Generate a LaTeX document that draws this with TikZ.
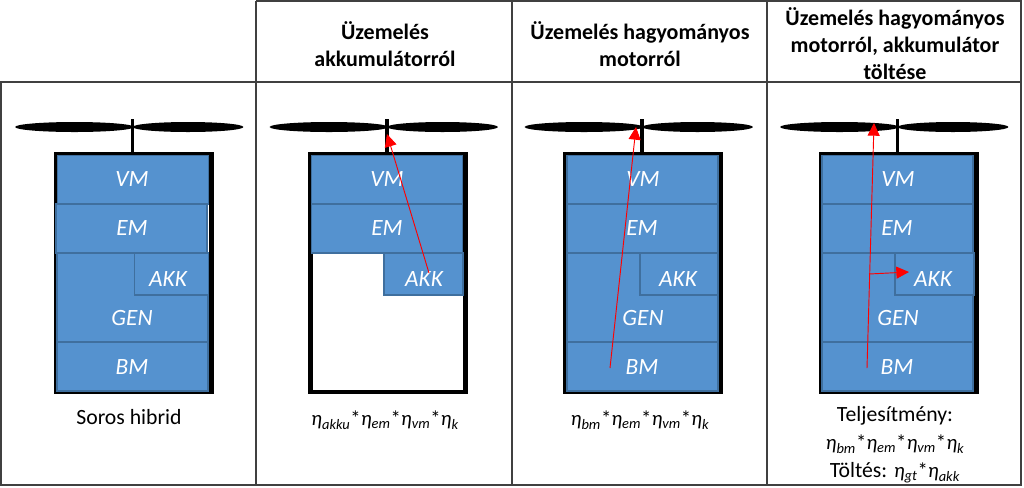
\documentclass[tikz,border=0pt]{standalone}
\usepackage{xcolor}
\usepackage{fontspec}
\setmainfont{Carlito}
\usetikzlibrary{shapes.geometric,arrows.meta}
\definecolor{blockblue}{HTML}{5592CF}
\definecolor{blockedge}{HTML}{3F6F9E}
\newcommand{\etasub}[1]{\textit{η\textsubscript{#1}}}
\tikzset{
    HD/.style ={align=center,font=\fontsize{16.5}{20.25}\selectfont\bfseries},
    TX/.style ={align=center,font=\fontsize{16.3}{21}\selectfont},
    EQ/.style ={align=center,font=\fontsize{15.5}{21}\selectfont},
    LB/.style ={text=white,font=\fontsize{17.5}{18}\selectfont\itshape},
    FR/.style ={rectangle,minimum width = 116.5pt, minimum height = 178.5pt, inner sep=0pt, draw, line width=3.5pt, fill=white},
    BK/.style ={rectangle,minimum width = 113.25pt, minimum height = 36.75pt, inner sep=0pt, draw=blockedge, line width=0.8pt, fill=blockblue},
    BG/.style ={rectangle,minimum width = 113.25pt, minimum height = 66.75pt, inner sep=0pt, draw=blockedge, line width=0.8pt, fill=blockblue},
    AK/.style ={rectangle,minimum width = 59.25pt, minimum height = 31.5pt, inner sep=0pt, draw=blockedge, line width=0.8pt, fill=blockblue},
    BL/.style ={ellipse,minimum height = 7.5pt, inner sep=0pt, fill=black},
    SH/.style ={line width=2.6pt},
    GR/.style ={draw=black!75,line width=0.8pt},
    FL/.style ={-{Triangle[length=9.5pt,width=9pt]},red,line width=0.7pt}
}
\begin{document}
\begin{tikzpicture}[x=0.75pt,y=-0.75pt]
    \useasboundingbox (0,0) rectangle (1024,487);
    % table
    \coordinate (t1) at (256,1);
    \coordinate (t2) at (512,1);
    \coordinate (t3) at (767,1);
    \coordinate (t4) at (1021,1);
    \coordinate (m0) at (1,82);
    \coordinate (m4) at (1021,82);
    \coordinate (b0) at (1,485);
    \coordinate (b1) at (256,485);
    \coordinate (b2) at (512,485);
    \coordinate (b3) at (767,485);
    \coordinate (b4) at (1021,485);
    \draw[GR] (t1) -- (t4) -- (b4) -- (b0) -- (m0) -- (m4);
    \draw[GR] (t1) -- (b1);
    \draw[GR] (t2) -- (b2);
    \draw[GR] (t3) -- (b3);
    \node[HD] (h2) at (385,44) {Üzemelés\\akkumulátorról};
    \node[HD] (h3) at (640,44) {Üzemelés hagyományos\\motorról};
    \node[HD] (h4) at (895,44) {Üzemelés hagyományos\\motorról, akkumulátor\\töltése};
    % soros hibrid
    \node[FR] (f1) at (133.5,273) {};
    \node[BL,minimum width=89pt] (p1) at (74.5,127) {};
    \node[BL,minimum width=83pt] (q1) at (188,127) {};
    \coordinate (s1) at (132.7,119);
    \coordinate (r1) at (132.7,152);
    \draw[SH] (s1) -- (r1);
    \node[BK] (vm1) at (133,180) {};
    \node[BG] (gen1) at (132.5,297.5) {};
    \node[BK] (em1) at (131.5,228.5) {};
    \node[AK,minimum width=55pt] (akk1) at (171.5,274) {};
    \node[BK] (bm1) at (132.5,366.5) {};
    \node[LB] at (132,179) {VM};
    \node[LB] at (132,228) {EM};
    \node[LB] at (168,279) {AKK};
    \node[LB] at (132,318) {GEN};
    \node[LB] at (132,367) {BM};
    \node[TX] (c1) at (129,417) {Soros hibrid};
    % akkumulator
    \node[FR] (f2) at (388,273) {};
    \node[BL,minimum width=89pt] (p2) at (329,127) {};
    \node[BL,minimum width=83pt] (q2) at (442.5,127) {};
    \coordinate (s2) at (387,119);
    \coordinate (r2) at (387,152);
    \draw[SH] (s2) -- (r2);
    \node[BK] (vm2) at (387,180) {};
    \node[BK] (em2) at (387,228.5) {};
    \node[AK] (akk2) at (423.5,274) {};
    \node[LB] at (387,179) {VM};
    \node[LB] at (387,228) {EM};
    \node[LB] at (424,279) {AKK};
    \node[EQ] (c2) at (385,420) {\etasub{akku}*\etasub{em}*\etasub{vm}*\etasub{k}};
    \coordinate (a2) at (429,273);
    \coordinate (e2) at (387,134);
    \draw[FL] (a2) -- (e2);
    % hagyomanyos motor
    \node[FR] (f3) at (643,273) {};
    \node[BL,minimum width=89pt] (p3) at (584,127) {};
    \node[BL,minimum width=83pt] (q3) at (697.5,127) {};
    \coordinate (s3) at (642,119);
    \coordinate (r3) at (642,152);
    \draw[SH] (s3) -- (r3);
    \node[BK] (vm3) at (642.5,180) {};
    \node[BG] (gen3) at (642.5,297.5) {};
    \node[BK] (em3) at (642.5,228.5) {};
    \node[AK,minimum width=58.5pt] (akk3) at (679,274) {};
    \node[BK] (bm3) at (642.5,366.5) {};
    \node[LB] at (643,179) {VM};
    \node[LB] at (642,228) {EM};
    \node[LB] at (678,279) {AKK};
    \node[LB] at (643,318) {GEN};
    \node[LB] at (642,367) {BM};
    \node[EQ] (c3) at (640,420) {\etasub{bm}*\etasub{em}*\etasub{vm}*\etasub{k}};
    \coordinate (a3) at (610,368);
    \coordinate (e3) at (636,127);
    \draw[FL] (a3) -- (e3);
    % motor + toltes
    \node[FR] (f4) at (898.5,273) {};
    \node[BL,minimum width=89pt] (p4) at (839.5,127) {};
    \node[BL,minimum width=83pt] (q4) at (953,127) {};
    \coordinate (s4) at (897.7,119);
    \coordinate (r4) at (897.7,152);
    \draw[SH] (s4) -- (r4);
    \node[BK] (vm4) at (897.5,180) {};
    \node[BG] (gen4) at (897.5,297.5) {};
    \node[BK] (em4) at (897.5,228.5) {};
    \node[AK] (akk4) at (934.5,274) {};
    \node[BK] (bm4) at (897.5,366.5) {};
    \node[LB] at (898,179) {VM};
    \node[LB] at (897,228) {EM};
    \node[LB] at (933,279) {AKK};
    \node[LB] at (898,318) {GEN};
    \node[LB] at (897,367) {BM};
    \node[EQ] (c4) at (895,445) {\fontsize{16.3}{21}\selectfont Teljesítmény:\\\etasub{bm}*\etasub{em}*\etasub{vm}*\etasub{k}\\\fontsize{16.3}{21}\selectfont Töltés: \fontsize{15.5}{21}\selectfont\etasub{gt}*\etasub{akk}};
    \coordinate (a4) at (867,368);
    \coordinate (e4) at (874,123);
    \coordinate (j4) at (869,274);
    \coordinate (k4) at (909,272);
    \draw[FL] (a4) -- (e4);
    \draw[FL] (j4) -- (k4);
\end{tikzpicture}
\end{document}
